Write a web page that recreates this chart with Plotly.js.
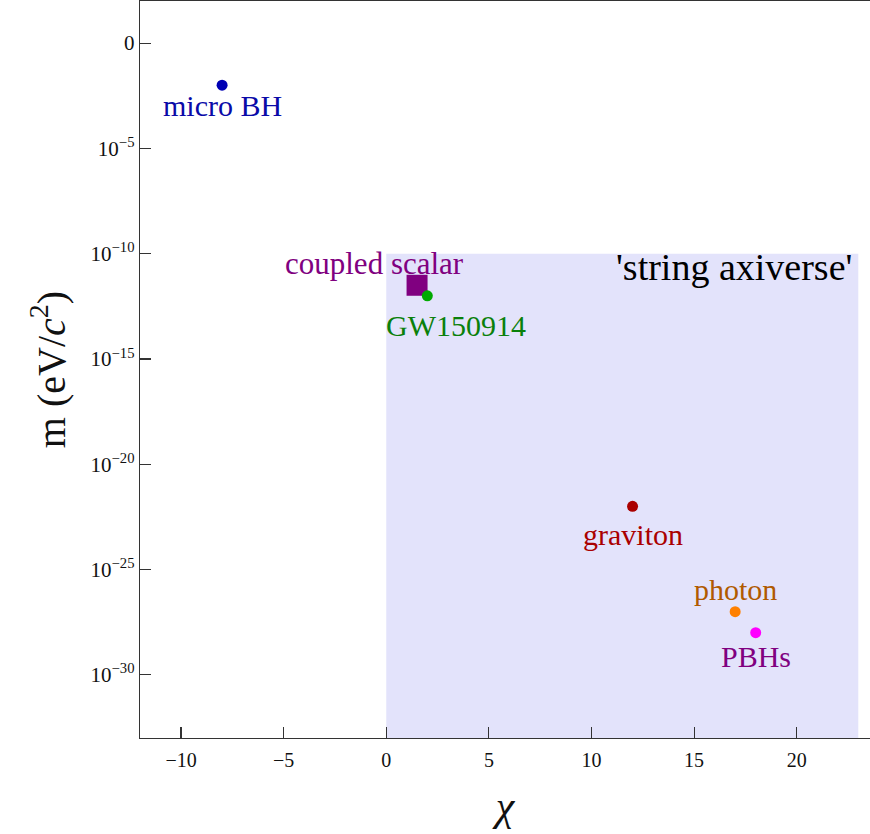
<!DOCTYPE html>
<html>
<head>
<meta charset="utf-8">
<script src="https://cdn.plot.ly/plotly-3.0.1.min.js"></script>
<style>html,body{margin:0;padding:0;background:#fff;}#chart{width:870px;height:834px;}</style>
</head>
<body>
<div id="chart"></div>
<script>
// ---- data ----
const names = ["micro BH", "GW150914", "graviton", "photon", "PBHs"];
const chiValues = [-8, 2, 12, 17, 18];
const massValues = [1e-2, 1e-12, 1e-22, 1e-27, 1e-28];
const pointColors = ["#0000b4", "#00aa00", "#aa0000", "#ff8000", "#ff00ff"];
const labelColors = ["#0a0aa8", "#0a800a", "#aa0000", "#b05a00", "#800080"];

const scalarName = "coupled scalar";
const scalarChi = [1.5];
const scalarMass = [Math.pow(10, -11.5)];
const scalarColor = "#800080";

const regionName = "'string axiverse'";
const regionChi = [0, 23];          // chi range of the shaded region
const regionMassTop = 1e-10;        // upper mass bound of region
const regionMassBottom = 1e-40;     // extends below the axis

const yTickVals = [1, 1e-5, 1e-10, 1e-15, 1e-20, 1e-25, 1e-30];
const yTickText = ["0", "10<sup>−5</sup>", "10<sup>−10</sup>", "10<sup>−15</sup>", "10<sup>−20</sup>", "10<sup>−25</sup>", "10<sup>−30</sup>"];
const xTickVals = [-10, -5, 0, 5, 10, 15, 20];
const xTickText = ["−10", "−5", "0", "5", "10", "15", "20"];

// label offsets in pixels (layout only)
const labelShift = [[0, -20], [29, -30], [0, -28], [0, 22], [0, -24]];

const serif = "Liberation Serif, Times New Roman, serif";

const traces = [
  {
    type: "scatter", mode: "lines",
    x: [regionChi[0], regionChi[1], regionChi[1], regionChi[0], regionChi[0]],
    y: [regionMassTop, regionMassTop, regionMassBottom, regionMassBottom, regionMassTop],
    fill: "toself", fillcolor: "#e3e3fb", line: {width: 0}, hoverinfo: "skip"
  },
  {
    type: "scatter", mode: "markers",
    x: scalarChi, y: scalarMass,
    marker: {symbol: "square", size: 21, color: scalarColor}
  },
  {
    type: "scatter", mode: "markers",
    x: chiValues, y: massValues,
    marker: {symbol: "circle", size: 11, color: pointColors}
  }
];

const annotations = names.map((n, i) => ({
  x: chiValues[i], y: Math.log10(massValues[i]), xref: "x", yref: "y",
  text: n, showarrow: false, xanchor: "center", yanchor: "middle",
  xshift: labelShift[i][0], yshift: labelShift[i][1],
  font: {family: serif, size: 30, color: labelColors[i]}
}));
annotations.push({
  x: scalarChi[0], y: Math.log10(scalarMass[0]), xref: "x", yref: "y",
  text: scalarName, showarrow: false, xanchor: "center", yanchor: "middle",
  xshift: -43, yshift: 22,
  font: {family: serif, size: 31, color: scalarColor}
});
annotations.push({
  x: regionChi[1], y: Math.log10(regionMassTop), xref: "x", yref: "y",
  text: regionName, showarrow: false, xanchor: "right", yanchor: "middle",
  xshift: -4, yshift: -13,
  font: {family: serif, size: 38, color: "#000"}
});

const layout = {
  width: 870, height: 834,
  margin: {l: 140, r: 0, t: 1, b: 96},
  paper_bgcolor: "#fff", plot_bgcolor: "#fff",
  showlegend: false,
  xaxis: {
    range: [-12, 23.57], tickvals: xTickVals, ticktext: xTickText,
    ticks: "inside", ticklen: 11, tickwidth: 1.2, tickcolor: "#333",
    showline: true, linecolor: "#333", linewidth: 1.3, mirror: true,
    showgrid: false, zeroline: false,
    tickfont: {family: serif, size: 20, color: "#111"},
    ticklabelstandoff: 4,
    title: {text: "<i>χ</i>", font: {family: serif, size: 42, color: "#111"}, standoff: 20}
  },
  yaxis: {
    type: "log", range: [-33, 2], tickvals: yTickVals, ticktext: yTickText,
    ticks: "inside", ticklen: 11, tickwidth: 1.2, tickcolor: "#333",
    showline: true, linecolor: "#333", linewidth: 1.3, mirror: false,
    showgrid: false, zeroline: false,
    tickfont: {family: serif, size: 21, color: "#111"},
    title: {text: "m (eV/<i>c</i><sup>2</sup>)", font: {family: serif, size: 40, color: "#111"}, standoff: 12}
  },
  annotations: annotations
};

Plotly.newPlot("chart", traces, layout, {displayModeBar: false, staticPlot: true});
</script>
</body>
</html>
